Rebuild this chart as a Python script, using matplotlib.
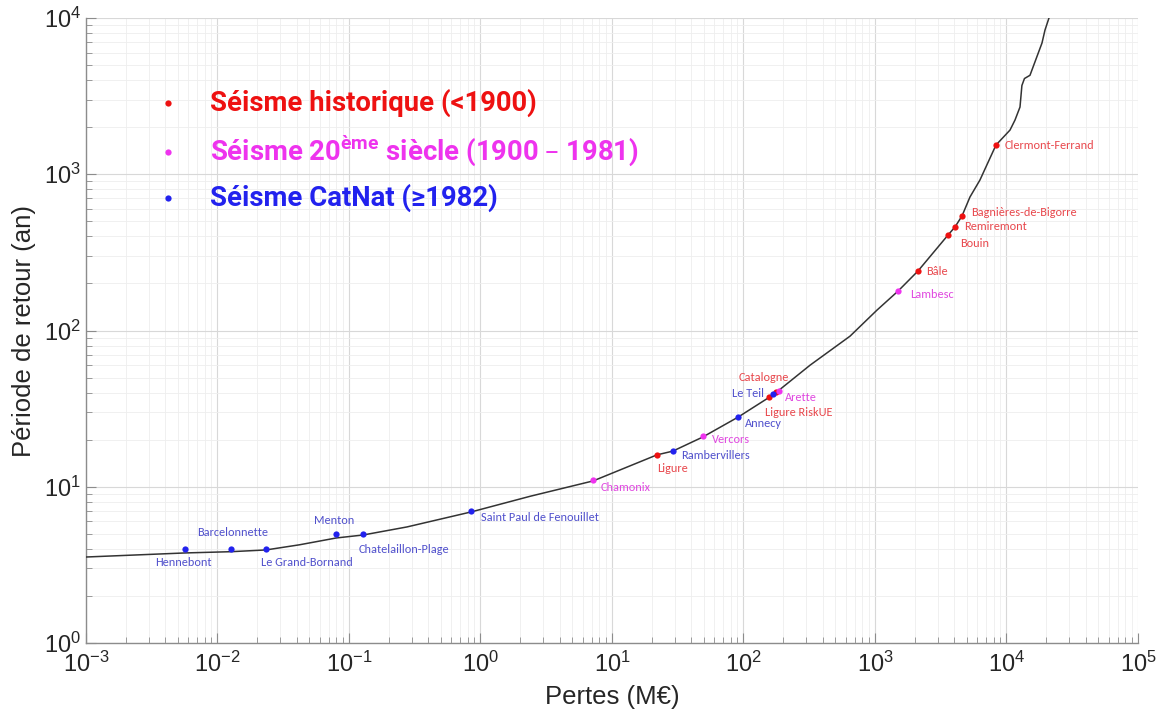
import matplotlib
matplotlib.use("Agg")
import matplotlib.pyplot as plt
from matplotlib.ticker import LogLocator, NullFormatter

plt.rcParams['font.family'] = ['Liberation Sans', 'DejaVu Sans']

# ---- data ----
curve_loss = [1e-3, 5.7e-3, 1.27e-2, 2.34e-2, 0.042, 0.08, 0.128, 0.276, 0.85, 2.4,
              7.2, 22, 29, 49, 91, 170, 321, 646, 1035, 1500, 2120, 3590, 4060,
              4590, 5275, 6285, 8320, 10640, 11610, 12670, 13100, 13700, 15090,
              18620, 19630, 21040]
curve_period = [3.55, 3.77, 3.84, 3.94, 4.25, 4.7, 4.91, 5.53, 6.9, 8.7,
                10.9, 16, 16.9, 20.8, 27.9, 39, 60, 92, 135, 179, 240, 408, 460,
                541, 715, 919, 1538, 1919, 2224, 2693, 3700, 4100, 4300,
                6918, 8380, 10000]

hist_names = ["Ligure", "Ligure RiskUE", "Catalogne", "Bâle", "Bouin",
              "Remiremont", "Bagnières-de-Bigorre", "Clermont-Ferrand"]
hist_loss = [22, 156, 177, 2120, 3590, 4060, 4590, 8320]
hist_period = [16, 37.5, 40.4, 240, 408, 460, 541, 1538]

c20_names = ["Chamonix", "Vercors", "Arette", "Lambesc"]
c20_loss = [7.2, 49, 186, 1500]
c20_period = [11, 21, 41, 179]

cat_names = ["Hennebont", "Barcelonnette", "Le Grand-Bornand", "Menton",
             "Chatelaillon-Plage", "Saint Paul de Fenouillet", "Rambervillers",
             "Annecy", "Le Teil"]
cat_loss = [0.0057, 0.0127, 0.0234, 0.08, 0.128, 0.85, 29, 91, 168]
cat_period = [4, 4, 4, 5, 5, 7, 17, 28, 39.2]

legend_labels = ["Séisme historique (<1900)",
                 "Séisme 20$^{\\mathdefault{ème}}$ siècle (1900 – 1981)",
                 "Séisme CatNat (≥1982)"]

# label offsets in pixels (dx, dy, ha)
hist_off = [(0, -14, 'left'), (-4, -15, 'left'), (-12, 15, 'center'),
            (8, 0, 'left'), (12, -8, 'left'), (9, 0, 'left'), (9, 3, 'left'),
            (9, 0, 'left')]
c20_off = [(7, -7, 'left'), (9, -3, 'left'), (6, -6, 'left'), (12, -3, 'left')]
cat_off = [(-2, -14, 'center'), (2, 16, 'center'), (-5, -14, 'left'),
           (-2, 13, 'center'), (-4, -16, 'left'), (10, -7, 'left'),
           (8, -5, 'left'), (7, -7, 'left'), (-41, 1, 'left')]

col_hist = "#EE1111"
col_20 = "#EE33EE"
col_cat = "#2222EE"
lab_hist = "#E8474C"
lab_20 = "#E048E0"
lab_cat = "#5050CC"

fig = plt.figure(figsize=(11.68, 7.24), dpi=100)
ax = fig.add_axes([0.0736, 0.1119, 0.9007, 0.8632])
ax.set_xscale('log')
ax.set_yscale('log')
ax.set_xlim(1e-3, 1e5)
ax.set_ylim(1, 1e4)

ax.xaxis.set_major_locator(LogLocator(base=10, numticks=20))
ax.xaxis.set_minor_locator(LogLocator(base=10, subs=range(2, 10), numticks=100))
ax.yaxis.set_major_locator(LogLocator(base=10, numticks=20))
ax.yaxis.set_minor_locator(LogLocator(base=10, subs=range(2, 10), numticks=100))
ax.xaxis.set_minor_formatter(NullFormatter())
ax.yaxis.set_minor_formatter(NullFormatter())

ax.grid(True, which='major', color='#d8d8d8', lw=0.8)
ax.grid(True, which='minor', color='#eeeeee', lw=0.6)
ax.set_axisbelow(True)

for s in ['top', 'right']:
    ax.spines[s].set_visible(False)
for s in ['left', 'bottom']:
    ax.spines[s].set_color('#8c8c8c')
    ax.spines[s].set_linewidth(1.0)
ax.tick_params(which='both', direction='in', colors='#8c8c8c', labelcolor='#262626')
ax.tick_params(which='major', length=7, labelsize=17)
ax.tick_params(which='minor', length=4)
ax.tick_params(axis='x', pad=6)

ax.plot(curve_loss, curve_period, color='#333333', lw=1.1, zorder=3)

ax.plot(hist_loss, hist_period, 'o', color=col_hist, ms=4.5, zorder=4, mec='none')
ax.plot(c20_loss, c20_period, 'o', color=col_20, ms=4.5, zorder=4, mec='none')
ax.plot(cat_loss, cat_period, 'o', color=col_cat, ms=4.5, zorder=5, mec='none')

lab_font = ['Carlito', 'Lato', 'DejaVu Sans']
def label(names, xs, ys, offs, col):
    for n, x, y, (dx, dy, ha) in zip(names, xs, ys, offs):
        ax.annotate(n, (x, y), xytext=(dx, dy), textcoords='offset pixels',
                    ha=ha, va='center', fontsize=8.8, color=col,
                    family=lab_font, zorder=6)

label(hist_names, hist_loss, hist_period, hist_off, lab_hist)
label(c20_names, c20_loss, c20_period, c20_off, lab_20)
label(cat_names, cat_loss, cat_period, cat_off, lab_cat)

# legend block
leg_cols = [col_hist, col_20, col_cat]
leg_y = [0.864, 0.786, 0.712]
for txt, c, y in zip(legend_labels, leg_cols, leg_y):
    ax.plot([0.078], [y], 'o', color=c, ms=4.5, mec='none', transform=ax.transAxes)
    ax.text(0.118, y, txt, transform=ax.transAxes, ha='left', va='center',
            fontsize=19.8, fontweight='bold', color=c, family=['Roboto', 'DejaVu Sans'])

ax.set_xlabel("Pertes (M€)", fontsize=18.5, color='#262626', labelpad=6)
ax.set_ylabel("Période de retour (an)", fontsize=18.5, color='#262626', labelpad=6)

fig.savefig("out.png", dpi=100)
